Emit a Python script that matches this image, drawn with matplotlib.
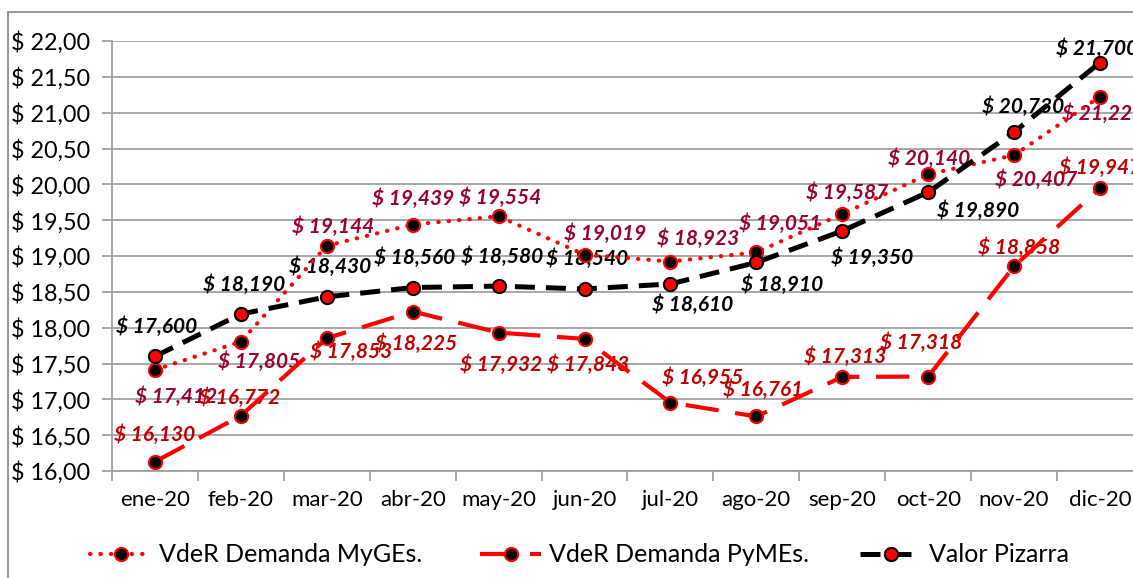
import numpy as np
import matplotlib
matplotlib.use("Agg")
from matplotlib import pyplot as plt
from matplotlib.patches import Rectangle

# data
meses = ["ene-20", "feb-20", "mar-20", "abr-20", "may-20", "jun-20",
         "jul-20", "ago-20", "sep-20", "oct-20", "nov-20", "dic-20"]
myges = [17.412, 17.805, 19.144, 19.439, 19.554, 19.019,
         18.923, 19.051, 19.587, 20.140, 20.407, 21.223]
pymes = [16.130, 16.772, 17.853, 18.225, 17.932, 17.843,
         16.955, 16.761, 17.313, 17.318, 18.858, 19.947]
pizarra = [17.600, 18.190, 18.430, 18.560, 18.580, 18.540,
           18.610, 18.910, 19.350, 19.890, 20.730, 21.700]
y_ticks = [16.0, 16.5, 17.0, 17.5, 18.0, 18.5, 19.0, 19.5, 20.0, 20.5, 21.0, 21.5, 22.0]
nombres = ["VdeR Demanda MyGEs.", "VdeR Demanda PyMEs.", "Valor Pizarra"]

# label offsets in pixels (dx right, dy down)
off_myges = [(21, 27), (18, 20), (6, -19), (0, -26), (2, -19), (21, -21),
             (28, -23), (24, -29), (5, -21), (1, -16), (22, 25), (3, 17)]
off_pymes = [(0, -27), (-1, -18), (24, 14), (3, 32), (3, 32), (4, 26),
             (32, -25), (7, -27), (3, -20), (-7, -34), (5, -18), (0, -20)]
off_pizarra = [(2, -30), (3, -29), (3, -30), (2, -30), (4, -29), (3, -30),
               (22, 21), (26, 22), (30, 27), (50, 18), (9, -25), (-3, -14)]

plt.rcParams["font.family"] = ["Lato", "DejaVu Sans"]

W, H = 1133, 578
fig = plt.figure(figsize=(W / 100, H / 100), dpi=100)
ax = fig.add_axes([112 / W, 1 - 471 / H, (1143 - 112) / W, (471 - 41) / H])

grid_c = "#A0A0A0"
red = "#FF0000"
x = np.arange(len(meses))


def etiq(vals, offs, color):
    for i, (v, (dx, dy)) in enumerate(zip(vals, offs)):
        ax.annotate(f"$ {v:.3f}".replace(".", ","), (i, v),
                    xytext=(dx * 0.72, -dy * 0.72), textcoords="offset points",
                    ha="center", va="center", fontsize=15, fontweight="bold",
                    fontstyle="italic", color=color, zorder=2)


l1, = ax.plot(x, myges, color=red, lw=3, linestyle=(0, (0.1, 2.4)), dash_capstyle="round",
              marker="o", ms=9.5, mfc="black", mec=red, mew=1.5, zorder=3)
l2, = ax.plot(x, pymes, color=red, lw=3, linestyle=(0, (8, 4)),
              marker="o", ms=9.5, mfc="black", mec=red, mew=1.5, zorder=4)
l3, = ax.plot(x, pizarra, color="black", lw=3.6, linestyle=(0, (4, 2.2)),
              marker="o", ms=9.5, mfc=red, mec="black", mew=1.5, zorder=5)

etiq(myges, off_myges, "#990033")
etiq(pymes, off_pymes, "#C00000")
etiq(pizarra, off_pizarra, "black")

ax.set_xlim(-0.5, len(meses) - 0.5)
ax.set_ylim(16, 22)
ax.set_yticks(y_ticks)
ax.set_yticklabels([f"$ {v:.2f}".replace(".", ",") for v in y_ticks])
ax.set_xticks(np.arange(len(meses) + 1) - 0.5)
ax.set_xticklabels([])
ax.set_xticks(x, minor=True)
ax.set_xticklabels(meses, minor=True)

ax.tick_params(axis="y", length=7, width=1.3, color=grid_c, pad=9, labelsize=16.8)
ax.tick_params(axis="x", which="major", length=7, width=1.3, color=grid_c, direction="out")
ax.tick_params(axis="x", which="minor", length=0, pad=14, labelsize=16)

ax.grid(axis="y", color=grid_c, lw=1.3, zorder=0)
ax.set_axisbelow(True)
for s in ["top", "right"]:
    ax.spines[s].set_visible(False)
for s in ["left", "bottom"]:
    ax.spines[s].set_color(grid_c)
    ax.spines[s].set_linewidth(1.3)

# one legend per entry, placed like the original
for h, nom, x0 in zip([l1, l2, l3], nombres, [90, 480, 860]):
    fig.legend(handles=[h], labels=[nom], loc="center left",
               bbox_to_anchor=(x0 / W, 1 - 555 / H), frameon=False, fontsize=18,
               handlelength=2.45, handletextpad=0.3, borderpad=0, borderaxespad=0)

fig.patches.append(Rectangle((8 / W, -0.1), 2, 1 - 12 / H + 0.1, transform=fig.transFigure,
                             fill=False, edgecolor="#8C8C8C", lw=1.3))

fig.savefig("out.png", dpi=100)
